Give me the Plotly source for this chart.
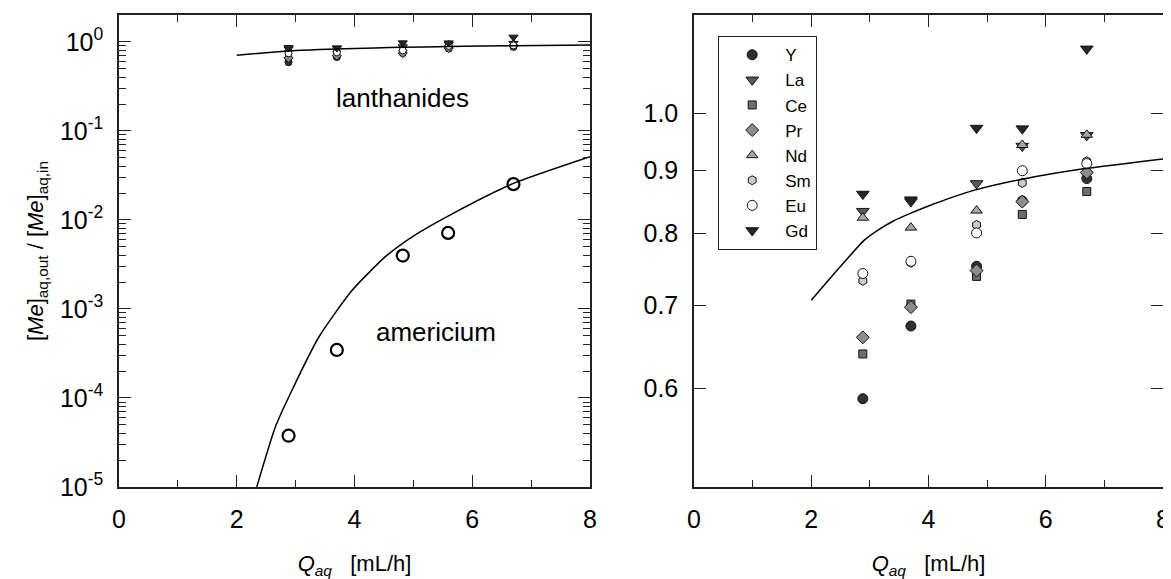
import plotly.graph_objects as go

# ---------------- data ----------------
elements = ["Y", "La", "Ce", "Pr", "Nd", "Sm", "Eu", "Gd"]
q_ln = [2.88, 3.70, 4.82, 5.60, 6.70]
y_Y = [0.589, 0.674, 0.753, 0.850, 0.886]
y_La = [0.834, 0.849, 0.878, 0.941, 0.960]
y_Ce = [0.640, 0.702, 0.739, 0.829, 0.865]
y_Pr = [0.660, 0.698, 0.747, 0.849, 0.896]
y_Nd = [0.824, 0.809, 0.835, 0.943, 0.961]
y_Sm = [0.733, 0.758, 0.813, 0.879, 0.915]
y_Eu = [0.743, 0.760, 0.801, 0.899, 0.911]
y_Gd = [0.861, 0.852, 0.973, 0.972, 1.127]

q_am = [2.88, 3.70, 4.82, 5.59, 6.70]
y_am = [3.77e-5, 3.46e-4, 3.97e-3, 7.14e-3, 2.52e-2]

q_fit_ln = [2.0, 2.5, 2.9, 3.1, 3.4, 3.7, 4.0, 4.35, 4.82, 5.6, 6.7, 8.0]
y_fit_ln = [0.707, 0.753, 0.790, 0.803, 0.819, 0.831, 0.842, 0.854, 0.868, 0.885, 0.903, 0.919]

q_fit_am = [2.34, 2.66, 2.94, 3.40, 3.96, 4.53, 4.98, 5.66, 6.70, 8.0]
y_fit_am = [1.0e-5, 4.8e-5, 1.23e-4, 4.9e-4, 1.62e-3, 3.89e-3, 6.46e-3, 1.17e-2, 2.57e-2, 5.13e-2]

left_tickvals = [1e-5, 1e-4, 1e-3, 1e-2, 1e-1, 1]
left_ticktext = ["10<sup>-5</sup>", "10<sup>-4</sup>", "10<sup>-3</sup>",
                 "10<sup>-2</sup>", "10<sup>-1</sup>", "10<sup>0</sup>"]
right_tickvals = [0.6, 0.7, 0.8, 0.9, 1.0]
right_ticktext = ["0.6", "0.7", "0.8", "0.9", "1.0"]

# ---------------- styles ----------------
series = {"Y": y_Y, "La": y_La, "Ce": y_Ce, "Pr": y_Pr,
          "Nd": y_Nd, "Sm": y_Sm, "Eu": y_Eu, "Gd": y_Gd}
symbols = {"Y": "circle", "La": "triangle-down", "Ce": "square", "Pr": "diamond",
           "Nd": "triangle-up", "Sm": "hexagon", "Eu": "circle", "Gd": "triangle-down"}
fills = {"Y": "#303030", "La": "#5a5a5a", "Ce": "#6e6e6e", "Pr": "#8c8c8c",
         "Nd": "#a8a8a8", "Sm": "#cccccc", "Eu": "#ffffff", "Gd": "#262626"}
sizes_r = {"Y": 10, "La": 11, "Ce": 8, "Pr": 10, "Nd": 10, "Sm": 9, "Eu": 10, "Gd": 11}

FONT = "Liberation Sans, Arial, Helvetica, sans-serif"

fig = go.Figure()

for el in elements:
    fig.add_trace(go.Scatter(
        x=q_ln, y=series[el], mode="markers", xaxis="x", yaxis="y",
        marker=dict(symbol=symbols[el], size=sizes_r[el] - 3, color=fills[el],
                    line=dict(color="#111111", width=1)),
        showlegend=False, name=el))
fig.add_trace(go.Scatter(x=q_fit_ln, y=y_fit_ln, mode="lines", xaxis="x", yaxis="y",
                         line=dict(color="black", width=1.5, shape="spline", smoothing=0.5),
                         showlegend=False))
fig.add_trace(go.Scatter(x=q_am, y=y_am, mode="markers", xaxis="x", yaxis="y",
                         marker=dict(symbol="circle-open", size=12,
                                     line=dict(color="black", width=2.2), color="black"),
                         showlegend=False, name="Am"))
fig.add_trace(go.Scatter(x=q_fit_am, y=y_fit_am, mode="lines", xaxis="x", yaxis="y",
                         line=dict(color="black", width=1.5, shape="spline", smoothing=0.6),
                         showlegend=False))

for el in elements:
    fig.add_trace(go.Scatter(
        x=q_ln, y=series[el], mode="markers", xaxis="x2", yaxis="y2",
        marker=dict(symbol=symbols[el], size=sizes_r[el], color=fills[el],
                    line=dict(color="#111111", width=1)),
        showlegend=True, name=el))
fig.add_trace(go.Scatter(x=q_fit_ln, y=y_fit_ln, mode="lines", xaxis="x2", yaxis="y2",
                         line=dict(color="black", width=1.5, shape="spline", smoothing=0.5),
                         showlegend=False))

# The page body has an 8px default margin; size the figure so it fills the window.
OFF = 8
W, H = 1171 - OFF, 579 - OFF


def px_x(v):
    return (v - OFF) / W


def px_y(v):
    return 1 - (v - OFF) / H


xd1 = [px_x(119), px_x(590)]
xd2 = [px_x(694), px_x(1163)]
yd = [px_y(487), px_y(15)]

axis_common = dict(showline=True, linecolor="#222222", linewidth=1.5, mirror="ticks",
                   ticks="inside", ticklen=12, tickwidth=1.2, tickcolor="#222222",
                   showgrid=False, zeroline=False, ticklabelstandoff=9,
                   tickfont=dict(family=FONT, size=25, color="black"))

xtitle = "<i>Q<sub>aq</sub></i>&nbsp;&nbsp;&nbsp;[mL/h]"

fig.update_layout(
    width=W, height=H,
    margin=dict(l=0, r=0, t=0, b=0, autoexpand=False),
    paper_bgcolor="white", plot_bgcolor="white",
    font=dict(family=FONT, color="black"),
    xaxis=dict(domain=xd1, range=[0, 8], tickvals=[0, 2, 4, 6, 8], anchor="y",
               minor=dict(ticks="inside", ticklen=7, dtick=1, tickcolor="#222222"),
               title=dict(text=xtitle, font=dict(size=22), standoff=24),
               **axis_common),
    yaxis=dict(domain=yd, type="log", range=[-5, 0.301], anchor="x",
               tickvals=left_tickvals, ticktext=left_ticktext,
               minor=dict(ticks="inside", ticklen=7, dtick="D1", tickcolor="#222222"),
               title=dict(text="[<i>Me</i>]<sub>aq,out</sub> / [<i>Me</i>]<sub>aq,in</sub>",
                          font=dict(size=22), standoff=10),
               **axis_common),
    xaxis2=dict(domain=xd2, range=[0, 8], tickvals=[0, 2, 4, 6, 8], anchor="y2",
                minor=dict(ticks="inside", ticklen=7, dtick=1, tickcolor="#222222"),
                title=dict(text=xtitle, font=dict(size=22), standoff=24),
                **axis_common),
    yaxis2=dict(domain=yd, type="log", range=[-0.301, 0.0792], anchor="x2",
                tickvals=right_tickvals, ticktext=right_ticktext,
                **axis_common),
    legend=dict(x=px_x(718), y=px_y(36), xanchor="left", yanchor="top",
                bgcolor="white", bordercolor="#222222", borderwidth=1.2,
                font=dict(family=FONT, size=17, color="black"),
                itemwidth=56, tracegroupgap=0),
    annotations=[
        dict(x=4.82, y=-0.63, xref="x", yref="y", text="lanthanides", showarrow=False,
             font=dict(family=FONT, size=26, color="black")),
        dict(x=5.38, y=-3.255, xref="x", yref="y", text="americium", showarrow=False,
             font=dict(family=FONT, size=26, color="black")),
    ],
)

fig.write_html("out.html")
